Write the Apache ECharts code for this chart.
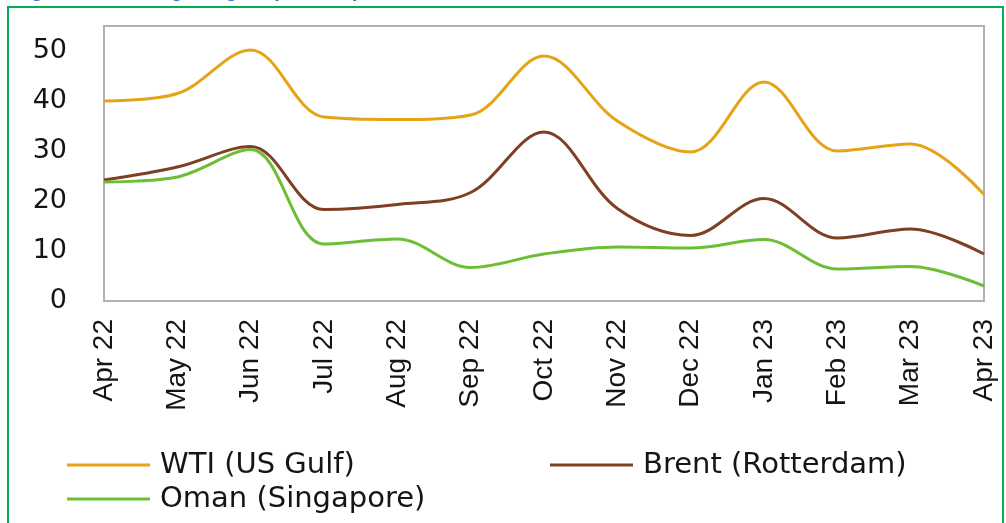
<!DOCTYPE html>
<html>
<head>
<meta charset="utf-8">
<script src="https://cdn.jsdelivr.net/npm/echarts@6/dist/echarts.min.js"></script>
<style>
  html, body { margin: 0; padding: 0; background: #fff; }
  #chart { width: 1006px; height: 523px; }
</style>
</head>
<body>
<div id="chart"></div>
<script>
// months on the x axis
var months = ['Apr 22','May 22','Jun 22','Jul 22','Aug 22','Sep 22','Oct 22','Nov 22','Dec 22','Jan 23','Feb 23','Mar 23','Apr 23'];
// values
var wti   = [40.0, 41.5, 50.2, 36.8, 36.3, 37.2, 49.0, 36.0, 29.8, 43.8, 30.0, 31.4, 21.3];
var brent = [24.2, 26.8, 30.9, 18.3, 19.3, 21.7, 33.8, 18.5, 13.1, 20.5, 12.6, 14.4, 9.4];
var oman  = [23.8, 24.8, 30.3, 11.4, 12.4, 6.7, 9.4, 10.8, 10.6, 12.3, 6.4, 6.9, 3.0];
var names = ['WTI (US Gulf)', 'Brent (Rotterdam)', 'Oman (Singapore)'];
var colors = ['#E5A418', '#7E3F22', '#6DBE35'];

var myChart = echarts.init(document.getElementById('chart'));

var legendText = {
    fontFamily: 'DejaVu Sans',
    fontSize: 29,
    color: '#151515',
    lineHeight: 34,
    padding: [0, 0, 0, 5]
};

function mkSeries(name, data, color) {
    return {
        name: name,
        type: 'line',
        data: data,
        smooth: 0.35,
        showSymbol: false,
        lineStyle: { width: 3, color: color },
        itemStyle: { color: color }
    };
}

var option = {
    animation: false,
    color: colors,
    graphic: [
        {   // green frame round the figure
            type: 'rect',
            shape: { x: 8, y: 7, width: 995, height: 540 },
            style: { fill: null, stroke: '#00B050', lineWidth: 2 },
            silent: true
        },
        {   // title cut off at the top edge
            type: 'text',
            left: 13,
            top: -19,
            style: { text: 'Figure 3: Refining margins (US$/bbl)', fontFamily: 'Liberation Sans', fontSize: 20, fontWeight: 'bold', fill: '#2E75B6' },
            silent: true
        }
    ],
    grid: {
        left: 104,
        right: 22,
        top: 26,
        bottom: 222,
        show: true,
        borderColor: '#b0b0b0',
        borderWidth: 2
    },
    legend: [
        {
            orient: 'vertical',
            left: 67,
            top: 448,
            padding: 0,
            itemGap: 0,
            itemWidth: 83,
            itemHeight: 3,
            icon: 'rect',
            data: [names[0], names[2]],
            textStyle: legendText
        },
        {
            orient: 'vertical',
            left: 550,
            top: 448,
            padding: 0,
            itemWidth: 83,
            itemHeight: 3,
            icon: 'rect',
            data: [names[1]],
            textStyle: legendText
        }
    ],
    xAxis: {
        type: 'category',
        data: months,
        boundaryGap: false,
        axisLine: { show: false },
        axisTick: { show: false },
        splitLine: { show: false },
        axisLabel: {
            rotate: 90,
            margin: 18,
            interval: 0,
            fontFamily: 'Liberation Sans',
            fontSize: 28,
            color: '#151515'
        }
    },
    yAxis: {
        type: 'value',
        min: 0,
        max: 55,
        interval: 10,
        axisLine: { show: false },
        axisTick: { show: false },
        splitLine: { show: false },
        axisLabel: {
            margin: 37,
            fontFamily: 'DejaVu Sans',
            fontSize: 27,
            color: '#151515',
            formatter: function (v) { return v % 10 === 0 ? v : ''; }
        }
    },
    series: [
        mkSeries(names[0], wti, colors[0]),
        mkSeries(names[1], brent, colors[1]),
        mkSeries(names[2], oman, colors[2])
    ]
};

myChart.setOption(option);
</script>
</body>
</html>
